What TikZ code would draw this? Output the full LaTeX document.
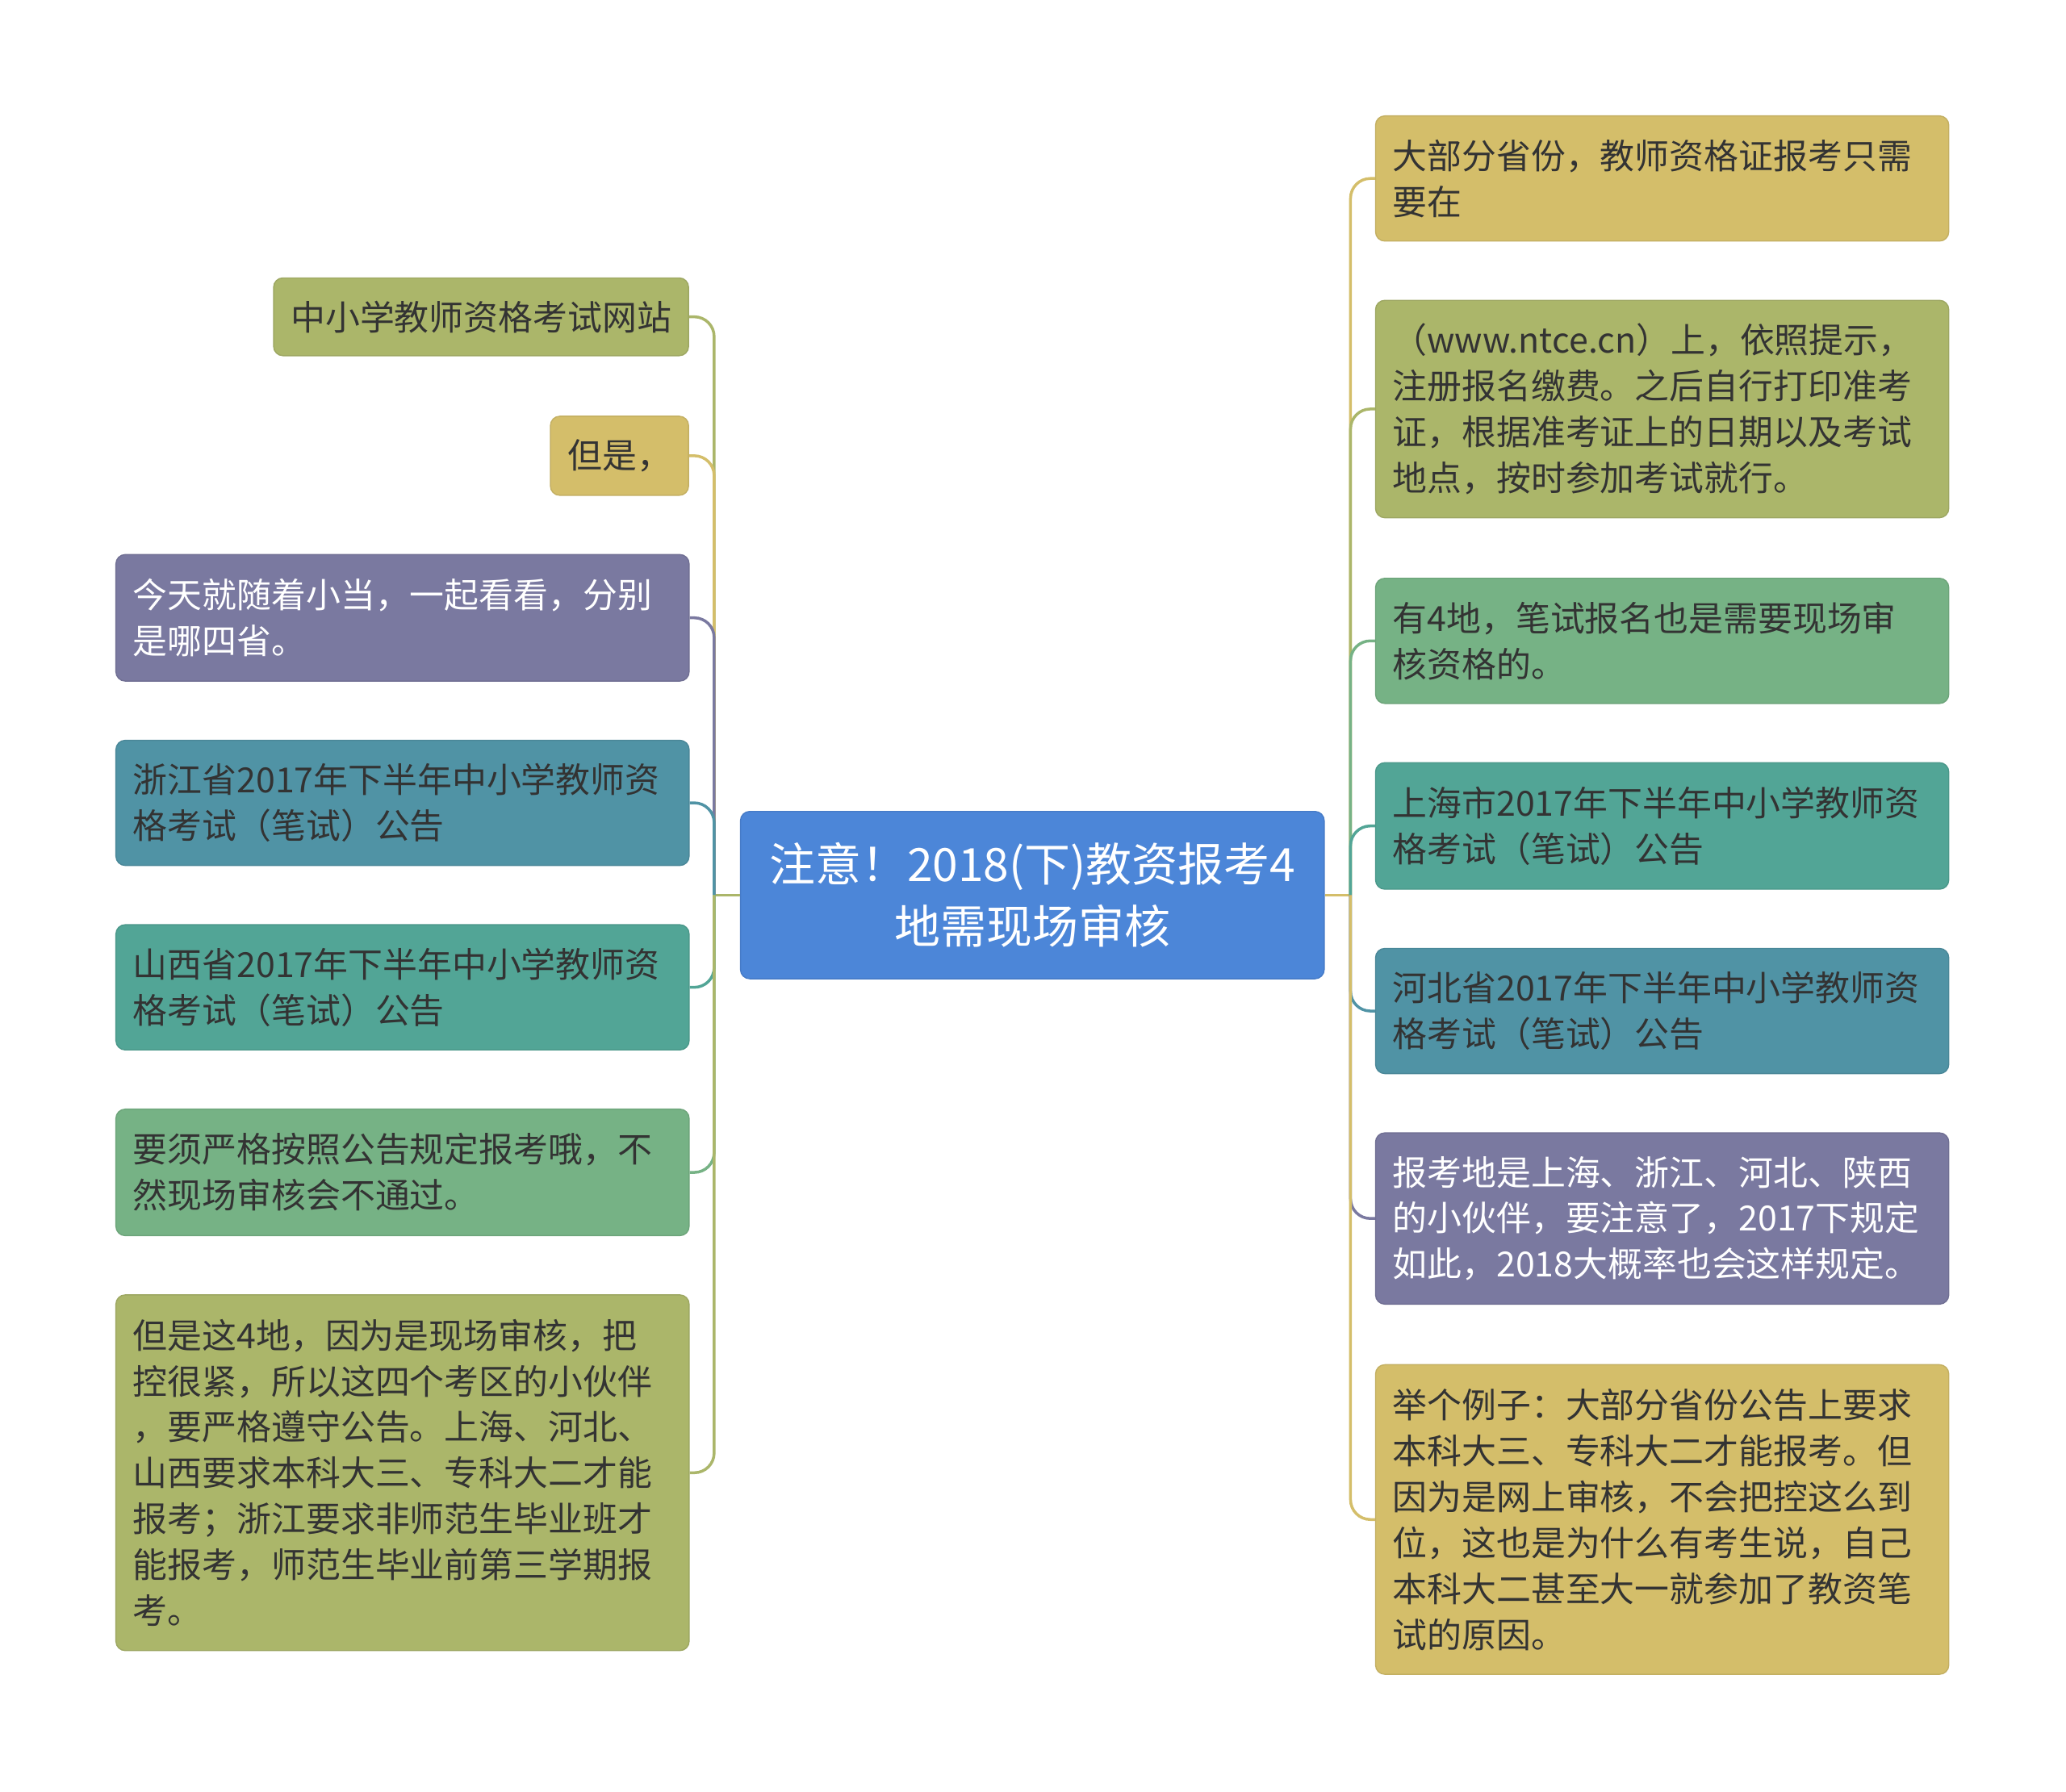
\documentclass[tikz,border=0pt]{standalone}
\usepackage{fontspec}
\setmainfont{Noto Sans CJK SC}
\newlength\pxu
\setlength\pxu{0.016327cm}
\definecolor{mapblue}{HTML}{4C86D8}
\definecolor{mapolive}{HTML}{ABB66A}
\definecolor{maptan}{HTML}{D4BE6A}
\definecolor{mappurple}{HTML}{7A79A0}
\definecolor{mapteal}{HTML}{5093A5}
\definecolor{mapsea}{HTML}{52A596}
\definecolor{mapgreen}{HTML}{76B285}
\definecolor{textdark}{HTML}{333333}
\tikzset{
  leaf/.style={rounded corners=7\pxu, draw=#1!92!black, fill=#1, line width=0.4pt,
    text=textdark, font=\fontsize{12.2pt}{16.2pt}\selectfont, align=left,
    inner xsep=13\pxu, inner ysep=0pt},
  wideleaf/.style={leaf=#1, text width=409\pxu},
  link/.style={draw=#1, line width=1pt, rounded corners=15\pxu},
}
\begin{document}
\begin{tikzpicture}[x=\pxu,y=-\pxu]
        \useasboundingbox (0,0) rectangle (1568,1360);

        % Central topic
        \node[leaf=mapblue, text=white, align=center, minimum width=443\pxu, minimum height=127\pxu,
          font=\fontsize{16.2pt}{21.8pt}\selectfont] (root) at (783.5,679.5)
          {注意！2018(下)教资报考4\\地需现场审核};
        \coordinate (lj) at (542,679.5);
        \coordinate (rj) at (1025,679.5);

        % Left branch
        \node[leaf=mapolive, anchor=east, minimum height=59\pxu] (l1) at (523,240.5) {中小学教师资格考试网站};
        \node[leaf=maptan, anchor=east, minimum height=60\pxu] (l2) at (523,346) {但是，};
        \node[wideleaf=mappurple, text=white, minimum height=96\pxu] (l3) at (305.5,469)
          {今天就随着小当，一起看看，分别\\是哪四省。};
        \node[wideleaf=mapteal, minimum height=95\pxu] (l4) at (305.5,609.5)
          {浙江省2017年下半年中小学教师资\\格考试（笔试）公告};
        \node[wideleaf=mapsea, minimum height=95\pxu] (l5) at (305.5,749.5)
          {山西省2017年下半年中小学教师资\\格考试（笔试）公告};
        \node[wideleaf=mapgreen, minimum height=96\pxu] (l6) at (305.5,890)
          {要须严格按照公告规定报考哦，不\\然现场审核会不通过。};
        \node[wideleaf=mapolive, minimum height=270\pxu] (l7) at (305.5,1118)
          {但是这4地，因为是现场审核，把\\控很紧，所以这四个考区的小伙伴\\，要严格遵守公告。上海、河北、\\山西要求本科大三、专科大二才能\\报考；浙江要求非师范生毕业班才\\能报考，师范生毕业前第三学期报\\考。};

        % Right branch
        \node[wideleaf=maptan, minimum height=95\pxu] (r1) at (1261.5,135.5)
          {大部分省份，教师资格证报考只需\\要在};
        \node[wideleaf=mapolive, minimum height=165\pxu] (r2) at (1261.5,310.5)
          {（www.ntce.cn）上，依照提示，\\注册报名缴费。之后自行打印准考\\证，根据准考证上的日期以及考试\\地点，按时参加考试就行。};
        \node[wideleaf=mapgreen, minimum height=95\pxu] (r3) at (1261.5,486.5)
          {有4地，笔试报名也是需要现场审\\核资格的。};
        \node[wideleaf=mapsea, minimum height=96\pxu] (r4) at (1261.5,627)
          {上海市2017年下半年中小学教师资\\格考试（笔试）公告};
        \node[wideleaf=mapteal, minimum height=95\pxu] (r5) at (1261.5,767.5)
          {河北省2017年下半年中小学教师资\\格考试（笔试）公告};
        \node[wideleaf=mappurple, text=white, minimum height=130\pxu] (r6) at (1261.5,925)
          {报考地是上海、浙江、河北、陕西\\的小伙伴，要注意了，2017下规定\\如此，2018大概率也会这样规定。};
        \node[wideleaf=maptan, minimum height=235\pxu] (r7) at (1261.5,1153.5)
          {举个例子：大部分省份公告上要求\\本科大三、专科大二才能报考。但\\因为是网上审核，不会把控这么到\\位，这也是为什么有考生说，自己\\本科大二甚至大一就参加了教资笔\\试的原因。};

        % Connectors
        \draw[link=mapolive] (root.west) -- (lj);
        \draw[link=maptan] (root.east) -- (rj);
        \draw[link=mapolive] (lj) |- (l1.east);
        \draw[link=maptan] (lj) |- (l2.east);
        \draw[link=mappurple] (lj) |- (l3.east);
        \draw[link=mapteal] (lj) |- (l4.east);
        \draw[link=mapsea] (lj) |- (l5.east);
        \draw[link=mapgreen] (lj) |- (l6.east);
        \draw[link=mapolive] (lj) |- (l7.east);
        \draw[link=maptan] (rj) |- (r1.west);
        \draw[link=mapolive] (rj) |- (r2.west);
        \draw[link=mapgreen] (rj) |- (r3.west);
        \draw[link=mapsea] (rj) |- (r4.west);
        \draw[link=mapteal] (rj) |- (r5.west);
        \draw[link=mappurple] (rj) |- (r6.west);
        \draw[link=maptan] (rj) |- (r7.west);
    \end{tikzpicture}
\end{document}
